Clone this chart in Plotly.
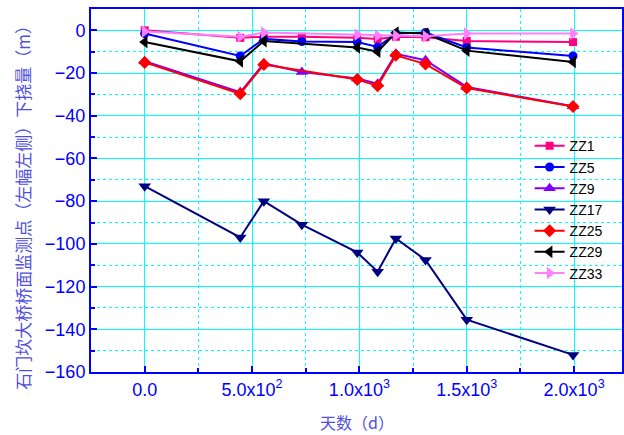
import plotly.graph_objects as go

# Observation days shared by all monitoring points
days = [0, 445, 555, 732, 990, 1085, 1170, 1308, 1500, 1995]

# Deflection (m) per monitoring point; None = not measured on that day
zz1 = [0, -3.5, -3, -3, -3.5, -4, -3, -3.2, -5, -5.5]
zz5 = [-1.5, -12, -4, -5.2, -5.5, -7.8, -1.5, -1, -8, -12]
zz9 = [-14.5, -29, -15.5, -19.5, -22.5, -25, -11, -14, -26.5, -35.5]
zz17 = [-73, -97, -80, -91, -104, -113, -97.5, -107.5, -135.5, -152]
zz25 = [-15, -29.7, -16, None, -23, -26, -11.7, -15.8, -27, -35.7]
zz29 = [-5.5, -14.5, -5, None, -8, -10, -1, -1.5, -9.5, -14.8]
zz33 = [-0.5, -3, -1, None, -2, -2.5, -2.5, -2.8, -1.5, -1.5]

x_tickvals = [0, 500, 1000, 1500, 2000]
x_ticktext = ["0.0", "5.0x10<sup>2</sup>", "1.0x10<sup>3</sup>",
              "1.5x10<sup>3</sup>", "2.0x10<sup>3</sup>"]

series = [
    ("ZZ1", zz1, "#FF0080", "square", 8),
    ("ZZ5", zz5, "#0000FF", "circle", 9),
    ("ZZ9", zz9, "#8000FF", "triangle-up", 11),
    ("ZZ17", zz17, "#000080", "triangle-down", 11),
    ("ZZ25", zz25, "#FF0000", "diamond", 10),
    ("ZZ29", zz29, "#000000", "triangle-left", 11),
    ("ZZ33", zz33, "#FF80FF", "triangle-right", 11),
]

fig = go.Figure()
for name, vals, color, symbol, size in series:
    fig.add_trace(go.Scatter(
        x=days, y=vals, name=name, mode="lines+markers",
        connectgaps=True,
        line=dict(color=color, width=2),
        marker=dict(symbol=symbol, size=size, color=color, line=dict(width=0)),
    ))

axis_font = dict(family="Liberation Sans, Arial, sans-serif", size=18, color="#0000FF")
grid_color = "#00FFFF"

fig.update_xaxes(
    range=[-250, 2223],
    tickvals=x_tickvals, ticktext=x_ticktext,
    tickfont=axis_font,
    ticks="inside", ticklen=6, tickwidth=1.5, tickcolor="#0000FF",
    showline=True, linecolor="#0000FF", linewidth=2, mirror=True,
    showgrid=True, gridcolor=grid_color, gridwidth=1,
    zeroline=False,
    minor=dict(dtick=250, tick0=0, ticks="inside", ticklen=4, tickcolor="#0000FF",
               showgrid=True, gridcolor=grid_color, griddash="dot", gridwidth=1),
)
fig.update_yaxes(
    range=[-160, 10],
    tickmode="linear", tick0=0, dtick=20,
    tickfont=axis_font,
    ticks="inside", ticklen=6, tickwidth=1.5, tickcolor="#0000FF",
    showline=True, linecolor="#0000FF", linewidth=2, mirror=True,
    showgrid=True, gridcolor=grid_color, gridwidth=1,
    zeroline=False,
    minor=dict(dtick=10, tick0=0, ticks="inside", ticklen=4, tickcolor="#0000FF",
               showgrid=True, gridcolor=grid_color, griddash="dot", gridwidth=1),
)

title_font = dict(family="Noto Sans CJK SC, sans-serif", size=16, color="#5050E0")
fig.add_annotation(
    text="石门坎大桥桥面监测点（左幅左侧）下挠量（m）",
    xref="paper", yref="paper", x=-0.129, y=0.465,
    xanchor="center", yanchor="middle", textangle=-90,
    showarrow=False, font=dict(title_font, size=17),
)
fig.add_annotation(
    text="天数（d）",
    xref="paper", yref="paper", x=0.5, y=-0.138,
    xanchor="center", yanchor="middle",
    showarrow=False, font=title_font,
)

fig.update_layout(
    width=624, height=435,
    margin=dict(l=91, r=0, t=9, b=63),
    paper_bgcolor="white", plot_bgcolor="white",
    showlegend=True,
    legend=dict(
        x=0.826, y=0.666, xanchor="left", yanchor="top",
        bgcolor="rgba(0,0,0,0)", borderwidth=0,
        font=dict(family="Liberation Sans, Arial, sans-serif", size=14, color="#000000"),
        tracegroupgap=0, itemwidth=30,
    ),
)

fig.write_html("out.html")
